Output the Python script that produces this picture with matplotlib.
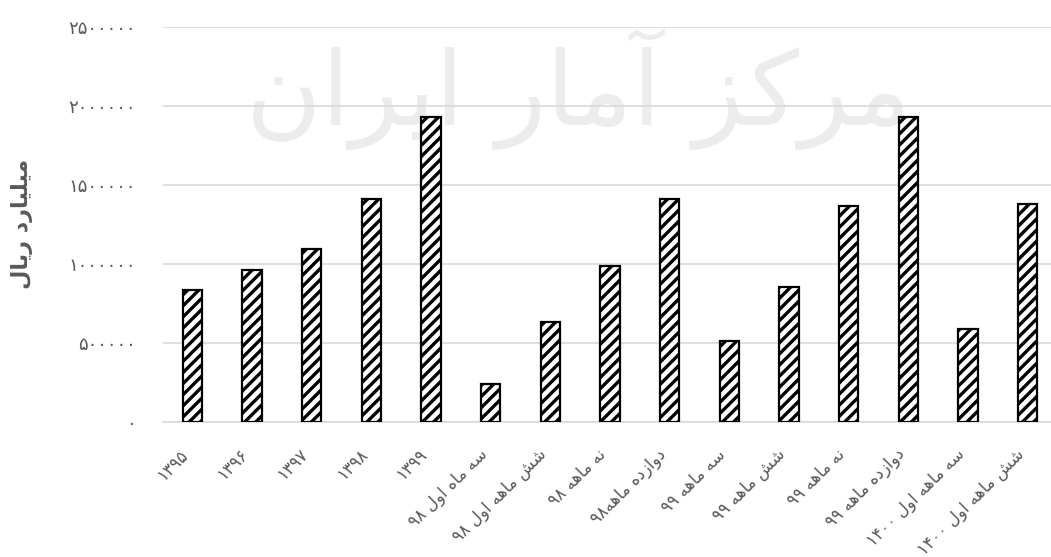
import re
import matplotlib
matplotlib.use("Agg")
import matplotlib.pyplot as plt

# ---------------- data ----------------
categories = [
    "۱۳۹۵", "۱۳۹۶", "۱۳۹۷", "۱۳۹۸", "۱۳۹۹",
    "سه ماه اول ۹۸", "شش ماهه اول ۹۸", "نه ماهه ۹۸", "دوازده ماهه۹۸",
    "سه ماهه ۹۹", "شش ماهه ۹۹", "نه ماهه ۹۹", "دوازده ماهه ۹۹",
    "سه ماهه اول ۱۴۰۰", "شش ماهه اول ۱۴۰۰",
]
values = [836000, 964000, 1093000, 1412000, 1930000,
          241000, 635000, 987000, 1412000,
          513000, 851000, 1366000, 1931000,
          586000, 1383000]
yticks = [0, 500000, 1000000, 1500000, 2000000, 2500000]
ytick_labels = ["۰", "۵۰۰۰۰۰", "۱۰۰۰۰۰۰", "۱۵۰۰۰۰۰", "۲۰۰۰۰۰۰", "۲۵۰۰۰۰۰"]
ylabel = "میلیارد ریال"
watermark = "مرکز آمار ایران"

# ------------- minimal Persian shaping -------------
FORMS = {
    "ا": (0xFE8D, 0xFE8E, None, None),
    "آ": (0xFE81, 0xFE82, None, None),
    "د": (0xFEA9, 0xFEAA, None, None),
    "ر": (0xFEAD, 0xFEAE, None, None),
    "ز": (0xFEAF, 0xFEB0, None, None),
    "و": (0xFEED, 0xFEEE, None, None),
    "س": (0xFEB1, 0xFEB2, 0xFEB3, 0xFEB4),
    "ش": (0xFEB5, 0xFEB6, 0xFEB7, 0xFEB8),
    "ل": (0xFEDD, 0xFEDE, 0xFEDF, 0xFEE0),
    "م": (0xFEE1, 0xFEE2, 0xFEE3, 0xFEE4),
    "ن": (0xFEE5, 0xFEE6, 0xFEE7, 0xFEE8),
    "ه": (0xFEE9, 0xFEEA, 0xFEEB, 0xFEEC),
    "ی": (0xFEEF, 0xFEF0, 0xFEF3, 0xFEF4),
    "ک": (0xFED9, 0xFEDA, 0xFEDB, 0xFEDC),
}


def fa(s):
    out = []
    for i, c in enumerate(s):
        if c not in FORMS:
            out.append(c)
            continue
        prev = s[i - 1] if i > 0 else ""
        nxt = s[i + 1] if i + 1 < len(s) else ""
        jp = prev in FORMS and FORMS[prev][2] is not None
        jn = FORMS[c][2] is not None and nxt in FORMS
        iso, fin, ini, med = FORMS[c]
        if jp and jn:
            out.append(chr(med))
        elif jp:
            out.append(chr(fin))
        elif jn:
            out.append(chr(ini))
        else:
            out.append(chr(iso))
    vis = "".join(out)[::-1]
    vis = re.sub("[۰-۹0-9]+", lambda m: m.group(0)[::-1], vis)
    return vis


plt.rcParams["font.family"] = ["DejaVu Sans"]
plt.rcParams["hatch.linewidth"] = 2.4
plt.rcParams["hatch.color"] = "black"

TXT = "#595959"
GRID = "#d9d9d9"

fig = plt.figure(figsize=(10.51, 5.57), dpi=100)
ax = fig.add_axes([162.5 / 1051, 1 - 421.7 / 557, 895 / 1051, 394.4 / 557])

# faint watermark, behind everything
fig.text(0.55, 0.84, fa(watermark), fontsize=74, color="#ececec",
         ha="center", va="center", zorder=-5)
ax.set_facecolor("none")

x = list(range(len(categories)))
ax.bar(x, values, width=0.32, color="white", edgecolor="black",
       linewidth=1.6, hatch="///", zorder=3)

ax.set_xlim(-0.5, len(categories) - 0.5)
ax.set_ylim(0, 2500000)
ax.set_yticks(yticks)
ax.set_yticklabels(ytick_labels, color=TXT, fontsize=13)
ax.set_xticks(x)
ax.set_xticklabels([fa(c) for c in categories], rotation=45, ha="right",
                   color=TXT, fontsize=12)
ax.tick_params(axis="y", length=0, pad=19)
ax.tick_params(axis="x", length=0, pad=17)
ax.grid(axis="y", color=GRID, linewidth=1.2, zorder=0)
ax.set_axisbelow(True)
for side in ["top", "right", "left"]:
    ax.spines[side].set_visible(False)
ax.spines["bottom"].set_color(GRID)
ax.spines["bottom"].set_linewidth(1.2)

fig.text(22 / 1051, 1 - 224 / 557, fa(ylabel), rotation=90, color=TXT,
         fontsize=16, fontweight="bold", ha="center", va="center")

fig.savefig("out.png", dpi=100)
